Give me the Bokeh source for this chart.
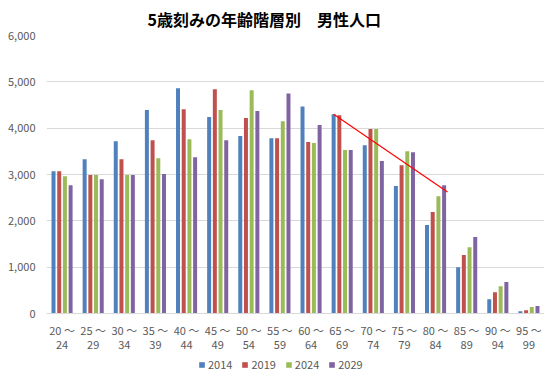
from bokeh.plotting import figure
from bokeh.layouts import column
from bokeh.models import (ColumnDataSource, Range1d, Legend, LegendItem, LinearAxis,
                          NumeralTickFormatter, FixedTicker, Title)
from bokeh.embed import file_html
from bokeh.resources import INLINE

# ---- data ----
categories = ["20～24", "25～29", "30～34", "35～39", "40～44", "45～49",
              "50～54", "55～59", "60～64", "65～69", "70～74", "75～79",
              "80～84", "85～89", "90～94", "95～99"]
label_top = [c.split("～")[0] + " ～" for c in categories]     # first line of tick label
label_bottom = [c.split("～")[1] for c in categories]          # second line of tick label
series_names = ["2014", "2019", "2024", "2029"]
y2014 = [3070, 3330, 3720, 4390, 4860, 4240, 3830, 3780, 4470, 4300, 3630, 2750, 1910, 1000, 310, 50]
y2019 = [3070, 2990, 3330, 3740, 4410, 4840, 4220, 3780, 3700, 4280, 3980, 3200, 2190, 1260, 460, 70]
y2024 = [2960, 2990, 2990, 3350, 3760, 4390, 4820, 4150, 3680, 3530, 3980, 3500, 2530, 1430, 590, 140]
y2029 = [2770, 2900, 2990, 3010, 3370, 3740, 4370, 4750, 4070, 3530, 3290, 3480, 2770, 1650, 680, 160]
colors = ["#4F81BD", "#C0504D", "#9BBB59", "#8064A2"]
y_ticks = [0, 1000, 2000, 3000, 4000, 5000, 6000]
# trend line (annotation drawn in the original): from 65～69 (2014) to 80～84 (2029)
trend_from = ("65～69", 0, 4300)   # category, series index, value
trend_to = ("80～84", 3, 2620)

title_text = "5歳刻みの年齢階層別　男性人口"

# ---- main figure ----
W = 544
H_MAIN = 353
H_LEG = 19
p = figure(width=W, height=H_MAIN, output_backend="svg", toolbar_location=None,
           x_range=Range1d(-0.5, len(categories) - 0.5), y_range=Range1d(0, 6000))
p.min_border_left = 46
p.min_border_right = 0
p.min_border_top = 29
p.min_border_bottom = 40
p.outline_line_color = None
p.background_fill_color = "white"
p.border_fill_color = "white"

t = Title(text=title_text, align="left", offset=101,
          text_font="Noto Sans CJK JP", text_font_size="16px",
          text_font_style="bold", text_color="#000000", standoff=9)
p.add_layout(t, "above")

idx = list(range(len(categories)))
bar_w = 0.128
pitch = 0.183
offsets = [(-1.5 + i) * pitch for i in range(4)]
all_series = [y2014, y2019, y2024, y2029]
for name, ys, col, off in zip(series_names, all_series, colors, offsets):
    src = ColumnDataSource(dict(x=[i + off for i in idx], top=ys))
    p.vbar(x="x", top="top", width=bar_w, source=src, fill_color=col,
           line_color=None)

# trend line
x0 = categories.index(trend_from[0]) + offsets[trend_from[1]]
x1 = categories.index(trend_to[0]) + offsets[trend_to[1]] + 0.11
p.line([x0, x1], [trend_from[2], trend_to[2]], line_color="#FF0000", line_width=1.2)

# axes
p.xgrid.grid_line_color = None
p.ygrid.grid_line_color = "#D9D9D9"
p.ygrid.grid_line_width = 1
p.yaxis.ticker = FixedTicker(ticks=y_ticks)
p.yaxis.formatter = NumeralTickFormatter(format="0,0")
p.yaxis.axis_line_color = None
p.yaxis.major_tick_line_color = None
p.yaxis.minor_tick_line_color = None
p.yaxis.major_tick_out = 0
p.yaxis.major_tick_in = 0
p.yaxis.major_label_standoff = 11
p.yaxis.major_label_text_font = "Noto Sans CJK JP"
p.yaxis.major_label_text_font_size = "11px"
p.yaxis.major_label_text_color = "#595959"

ax1 = p.xaxis[0]
ax2 = LinearAxis()
p.add_layout(ax2, "below")
for ax, labs in ((ax1, label_top), (ax2, label_bottom)):
    ax.ticker = FixedTicker(ticks=idx)
    ax.major_label_overrides = {i: lab for i, lab in zip(idx, labs)}
    ax.major_tick_line_color = None
    ax.minor_tick_line_color = None
    ax.major_tick_out = 0
    ax.major_tick_in = 0
    ax.minor_tick_out = 0
    ax.major_label_text_font = "Noto Sans CJK JP"
    ax.major_label_text_font_size = "11px"
    ax.major_label_text_color = "#595959"
ax1.axis_line_color = "#D9D9D9"
ax1.major_label_standoff = 8
ax2.axis_line_color = None
ax2.major_label_standoff = 0

# ---- legend strip ----
leg = figure(width=W, height=H_LEG, output_backend="svg", toolbar_location=None,
             x_range=Range1d(0, 1), y_range=Range1d(0, 1),
             x_axis_location=None, y_axis_location=None)
leg.min_border = 0
leg.min_border_left = 0
leg.min_border_right = 0
leg.min_border_top = 0
leg.min_border_bottom = 0
leg.grid.visible = False
leg.outline_line_color = None
leg.border_fill_color = "white"
items = []
for name, col in zip(series_names, colors):
    # zero-height placeholder bar: only supplies the legend swatch style
    r = leg.vbar(x=[0.5], top=[0], bottom=[0], width=0.0, fill_color=col, line_color=None)
    items.append(LegendItem(label=name, renderers=[r]))
legend = Legend(items=items, orientation="horizontal", location=(152, 0),
                glyph_width=7, glyph_height=7, label_standoff=3, spacing=9,
                label_height=7,
                label_text_font="Noto Sans CJK JP", label_text_font_size="11px",
                label_text_color="#595959", border_line_color=None,
                background_fill_alpha=0, padding=0, margin=0)
leg.add_layout(legend, "center")

layout = column(p, leg, spacing=0)
open("out.html", "w").write(file_html(layout, INLINE))
